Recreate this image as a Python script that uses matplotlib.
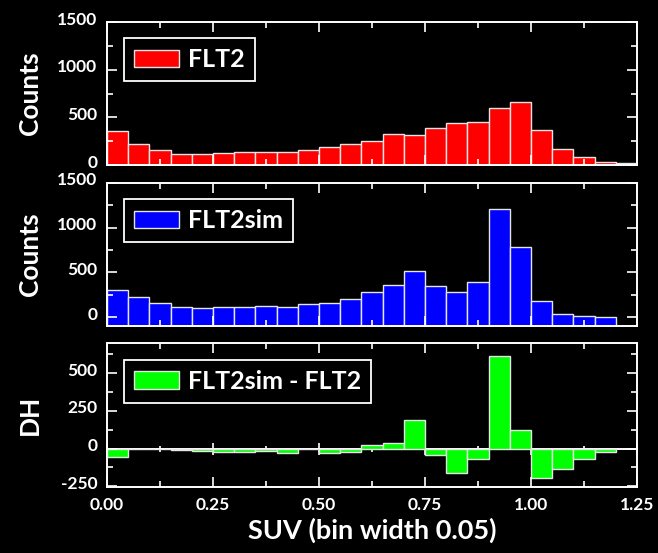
import numpy as np
import matplotlib
matplotlib.use('Agg')
import matplotlib.pyplot as plt
import matplotlib.ticker as ticker
from matplotlib.transforms import ScaledTranslation

plt.rcParams['font.family'] = ['Lato', 'DejaVu Sans']
plt.rcParams['font.weight'] = 'bold'

# histogram bins (left edges), width 0.05
bin_width = 0.05
bin_left = np.round(np.arange(25) * bin_width, 2)

flt2 = [357, 220, 154, 112, 119, 126, 133, 133, 140, 154,
        185, 224, 257, 322, 315, 387, 444, 456, 596, 657,
        367, 164, 80, 28, 17]
flt2sim = [299, 220, 153, 108, 101, 112, 116, 119, 108, 149,
           153, 205, 280, 360, 511, 344, 282, 388, 1213, 780,
           175, 30, 10, 4]
dh = [-58, 0, 0, -9, -15, -20, -20, -15, -31, -5,
      -27, -20, 25, 40, 192, -42, -160, -68, 615, 122,
      -192, -137, -68, -22]

FG = 'white'
EDGE = '#e6e6e6'


def style_axes(ax, ylim, ymajor, yminor):
	ax.set_facecolor('black')
	ax.set_xlim(0, 1.25)
	ax.set_ylim(*ylim)
	for sp in ax.spines.values():
		sp.set_color(FG)
		sp.set_linewidth(1.4)
	ax.xaxis.set_major_locator(ticker.MultipleLocator(0.25))
	ax.xaxis.set_minor_locator(ticker.MultipleLocator(0.125))
	ax.yaxis.set_major_locator(ticker.MultipleLocator(ymajor))
	ax.yaxis.set_minor_locator(ticker.MultipleLocator(yminor))
	ax.tick_params(which='both', direction='in', top=True, right=True,
	               colors=FG, width=1.2, labelsize=12.5, pad=7)
	ax.tick_params(which='major', length=7)
	ax.tick_params(which='minor', length=4)
	ax.yaxis.set_major_formatter(ticker.FormatStrFormatter('%d'))
	# numbers sit slightly above their ticks
	for lab in ax.get_yticklabels():
		lab.set_transform(lab.get_transform() + ScaledTranslation(0, 4 / 100, ax.figure.dpi_scale_trans))


def add_legend(ax):
	leg = ax.legend(loc='upper left', bbox_to_anchor=(0.033, 0.885), borderaxespad=0,
	                fontsize=18, frameon=True, fancybox=False, facecolor='black',
	                edgecolor=FG, framealpha=1, labelcolor=FG, handlelength=1.8,
	                handleheight=0.7, handletextpad=0.35, borderpad=0.4)
	leg.get_frame().set_linewidth(1.3)
	for t in leg.get_texts():
		t.set_fontweight('bold')
	return leg


fig = plt.figure(figsize=(6.58, 5.53), dpi=100, facecolor='black')
ax1 = fig.add_axes([0.1626, 0.7016, 0.8055, 0.2586])
ax2 = fig.add_axes([0.1626, 0.4105, 0.8055, 0.2586])
ax3 = fig.add_axes([0.1626, 0.1193, 0.8055, 0.2604])

# FLT2
ax1.bar(bin_left, flt2, width=bin_width, align='edge', color='#ff0000',
        edgecolor=EDGE, linewidth=1, label='FLT2')
style_axes(ax1, (0, 1500), 500, 250)
ax1.set_ylabel('Counts', fontsize=19, color=FG, fontweight='bold')
ax1.tick_params(labelbottom=False)
add_legend(ax1)

# FLT2sim, bars start at the bottom of the axis
sim_base = -100
sim_vals = np.array(flt2sim)
ax2.bar(bin_left[:len(sim_vals)], sim_vals - sim_base, bottom=sim_base, width=bin_width,
        align='edge', color='#0000ff', edgecolor=EDGE, linewidth=1, label='FLT2sim')
style_axes(ax2, (sim_base, 1500), 500, 250)
ax2.set_ylabel('Counts', fontsize=19, color=FG, fontweight='bold')
ax2.tick_params(labelbottom=False)
add_legend(ax2)

# difference histogram
dh_lim = (-255, 700)
ax3.bar(bin_left[:len(dh)], dh, width=bin_width, align='edge', color='#00ff00',
        edgecolor=EDGE, linewidth=1, label='FLT2sim - FLT2')
style_axes(ax3, dh_lim, 250, 125)
ax3.xaxis.set_major_formatter(ticker.FormatStrFormatter('%.2f'))
ax3.set_ylabel('DH', fontsize=19, color=FG, fontweight='bold')
ax3.set_xlabel('SUV (bin width 0.05)', fontsize=19.5, color=FG, fontweight='bold')
add_legend(ax3)

# zero line with crossing ticks
zero_frac = (0 - dh_lim[0]) / (dh_lim[1] - dh_lim[0])
zax = ax3.secondary_xaxis(zero_frac)
zax.spines['bottom'].set_color(FG)
zax.spines['bottom'].set_linewidth(1.4)
zax.xaxis.set_major_locator(ticker.MultipleLocator(0.25))
zax.xaxis.set_minor_locator(ticker.MultipleLocator(0.125))
zax.tick_params(which='both', direction='inout', colors=FG, width=1.2,
                labelbottom=False, labeltop=False)
zax.tick_params(which='major', length=8)
zax.tick_params(which='minor', length=5)

for ax in (ax1, ax2, ax3):
	ax.yaxis.set_label_coords(-0.123, 0.5)
ax3.xaxis.set_label_coords(0.5, -0.215)

plt.savefig('out.png', dpi=100, facecolor='black')
